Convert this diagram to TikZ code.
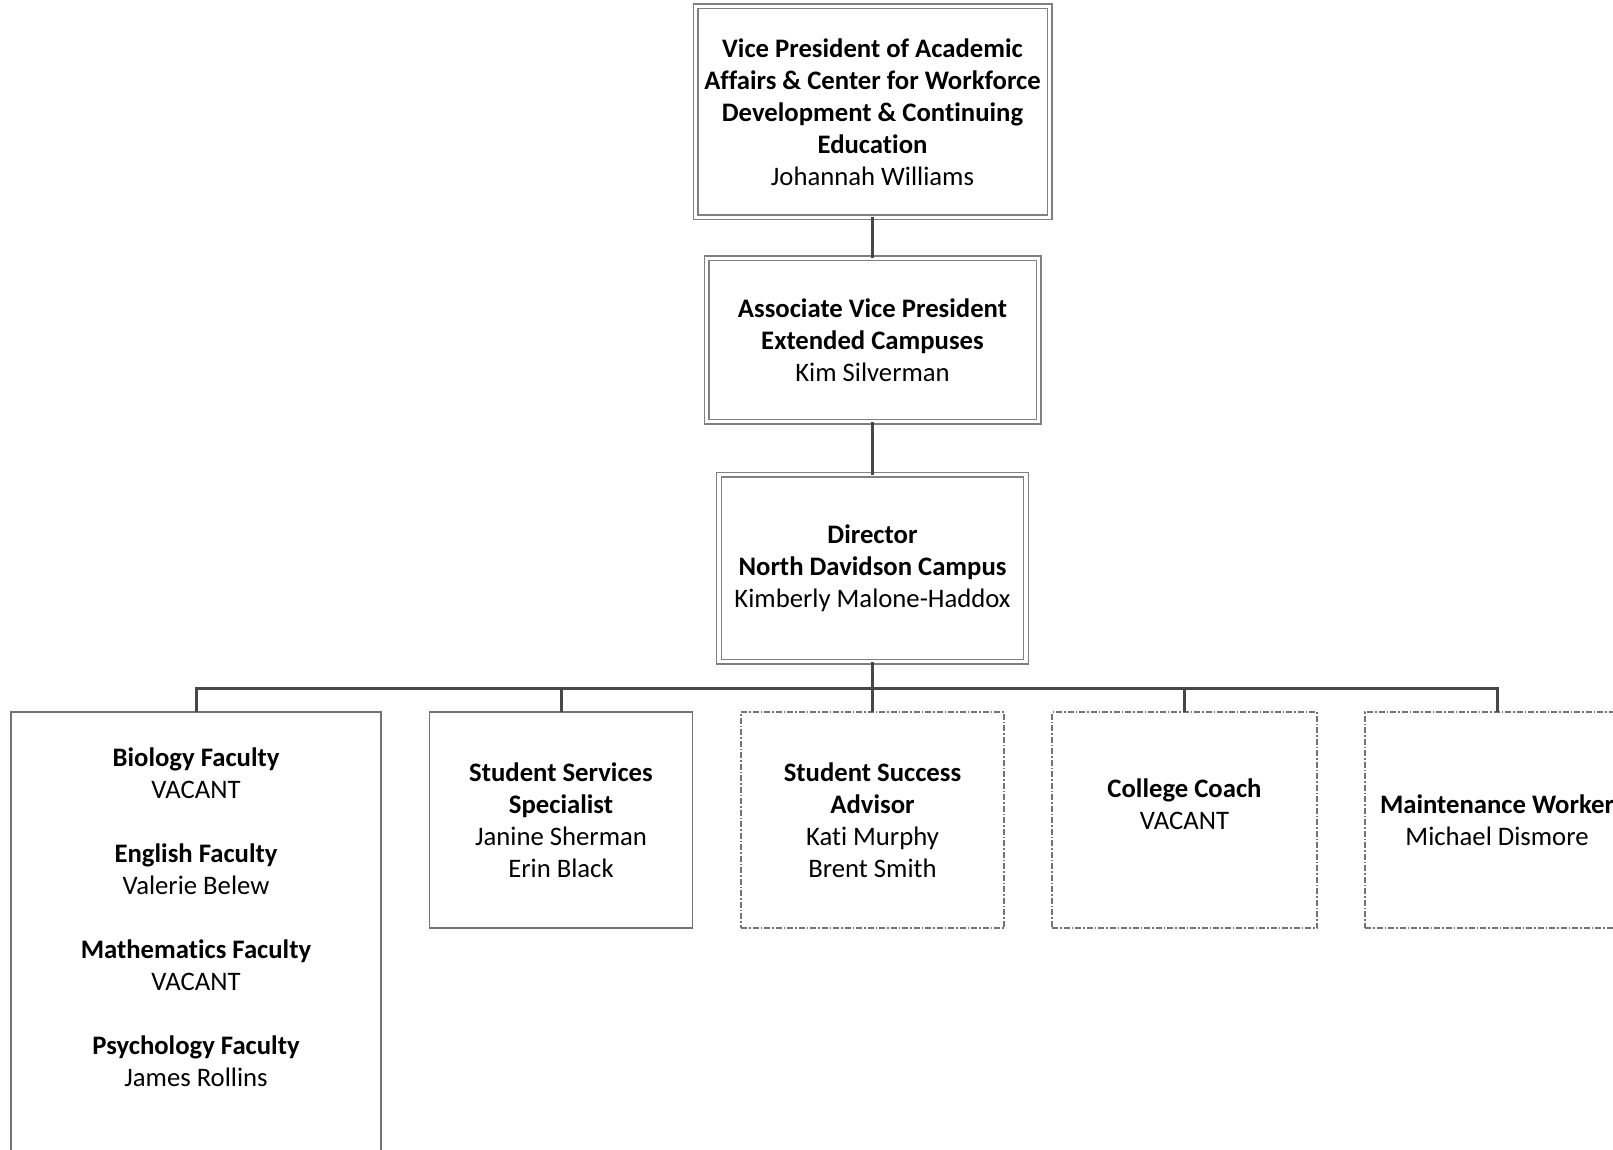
\documentclass[tikz,border=0pt]{standalone}
\usepackage{fontspec}
\setmainfont{Carlito}[Ligatures=NoCommon]
\begin{document}
\begin{tikzpicture}[x=1pt,y=-1pt,
  conn/.style={draw=black!72, line width=3pt},
  dblbox/.style={draw=black!50, double=white, double distance=3.8pt, line width=1.1pt, inner sep=0pt, outer sep=0pt},
  plainbox/.style={draw=black!55, line width=1.2pt, inner sep=0pt, outer sep=0pt},
  vacbox/.style={draw=black!55, line width=1.2pt, dash pattern=on 6pt off 2pt on 1.5pt off 2pt, inner sep=0pt, outer sep=0pt},
  txt/.style={align=center, font=\fontsize{26.7}{32}\selectfont, inner sep=0pt}
]
\clip (0,0) rectangle (1613,1150);
\fill[white] (0,0) rectangle (1613,1150);

% top chain
\node[dblbox, txt, minimum width=354pt, minimum height=211pt] (vp) at (872.5,112)
  {\textbf{Vice President of Academic}\\\textbf{Affairs \& Center for Workforce}\\\textbf{Development \& Continuing}\\\textbf{Education}\\Johannah Williams};
\node[dblbox, txt, minimum width=332pt, minimum height=163pt] (avp) at (872.5,340)
  {\textbf{Associate Vice President}\\\textbf{Extended Campuses}\\Kim Silverman};
\node[dblbox, txt, minimum width=307pt, minimum height=187pt] (dir) at (872.5,568)
  {\textbf{Director}\\\textbf{North Davidson Campus}\\Kimberly Malone-Haddox};

% bottom row
\node[plainbox, minimum width=370pt, minimum height=488pt] (fac) at (196,956) {};
\node[txt] (factext) at (196,917)
  {\textbf{Biology Faculty}\\VACANT\\[32pt]\textbf{English Faculty}\\Valerie Belew\\[32pt]\textbf{Mathematics Faculty}\\VACANT\\[32pt]\textbf{Psychology Faculty}\\James Rollins};
\node[plainbox, txt, minimum width=263pt, minimum height=216pt] (sss) at (561,820)
  {\textbf{Student Services}\\\textbf{Specialist}\\Janine Sherman\\Erin Black};
\node[vacbox, txt, minimum width=263pt, minimum height=216pt] (ssa) at (872.5,820)
  {\textbf{Student Success}\\\textbf{Advisor}\\Kati Murphy\\Brent Smith};
\node[vacbox, minimum width=265pt, minimum height=216pt] (cc) at (1184.5,820) {};
\node[txt] (cctext) at (1184.5,804) {\textbf{College Coach}\\VACANT};
\node[vacbox, txt, minimum width=264pt, minimum height=216pt] (mw) at (1497,820)
  {\textbf{Maintenance Worker}\\Michael Dismore};

% connectors
\coordinate (bar) at (872.5,688);
\draw[conn] (vp.south) -- (avp.north);
\draw[conn] (avp.south) -- (dir.north);
\draw[conn] (dir.south) -- (bar);
\foreach \n in {fac,sss,ssa,cc,mw} \draw[conn] (\n.north) |- (bar);
\end{tikzpicture}
\end{document}
